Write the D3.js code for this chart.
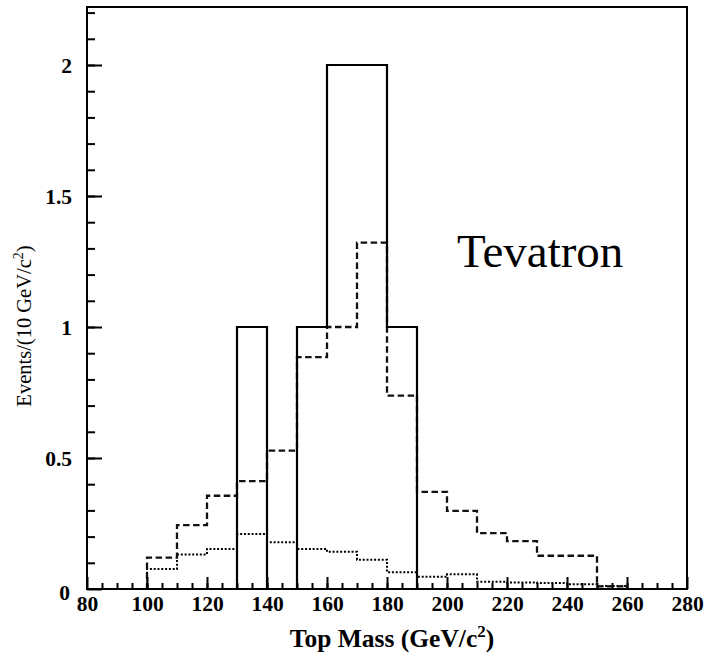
<!DOCTYPE html>
<html>
<head>
<meta charset="utf-8">
<script src="https://cdn.jsdelivr.net/npm/d3@7"></script>
<style>
  html, body { margin: 0; padding: 0; background: #fff; }
  svg { display: block; }
  text { font-family: "Liberation Serif", "Times New Roman", serif; fill: #000; }
</style>
</head>
<body>
<svg id="chart" width="707" height="656"></svg>
<script>
// Bin lower edges (GeV/c^2), 10 GeV wide bins
const binLow = [100, 110, 120, 130, 140, 150, 160, 170, 180, 190, 200, 210, 220, 230, 240, 250];
const binWidth = 10;
// Observed events per bin (solid)
const observed = [0, 0, 0, 1, 0, 1, 2, 2, 1, 0, 0, 0, 0, 0, 0, 0];
// Expected signal + background (dashed)
const expected = [0.12, 0.244, 0.356, 0.412, 0.528, 0.885, 1.0, 1.322, 0.738, 0.371, 0.298, 0.213, 0.183, 0.127, 0.127, 0.01];
// Background only (dotted)
const background = [0.076, 0.132, 0.153, 0.21, 0.178, 0.153, 0.142, 0.112, 0.064, 0.047, 0.056, 0.028, 0.025, 0.023, 0.018, 0.011];

const xMajorTicks = [80, 100, 120, 140, 160, 180, 200, 220, 240, 260, 280];
const yMajorTicks = [0, 0.5, 1, 1.5, 2];

const svg = d3.select("#chart");

const plot = { left: 87, right: 687, top: 7, bottom: 589 };
const x = d3.scaleLinear().domain([80, 280]).range([plot.left, plot.right]);
// y = 2 sits at pixel 65; the frame extends a little above
const yPerUnit = (plot.bottom - 65) / 2;
const yMax = (plot.bottom - plot.top) / yPerUnit;
const y = d3.scaleLinear().domain([0, yMax]).range([plot.bottom, plot.top]);

// Step outline of a histogram, starting and ending on the baseline
function stepPath(values) {
  const pts = [[binLow[0], 0]];
  values.forEach((v, i) => {
    pts.push([binLow[i], v]);
    pts.push([binLow[i] + binWidth, v]);
  });
  pts.push([binLow[binLow.length - 1] + binWidth, 0]);
  return d3.line().x(d => x(d[0])).y(d => y(d[1]))(pts);
}

// Background (dotted)
svg.append("path")
  .attr("d", stepPath(background))
  .attr("fill", "none")
  .attr("stroke", "#000")
  .attr("stroke-width", 2)
  .attr("stroke-dasharray", "2,1.8");

// Expected (dashed)
svg.append("path")
  .attr("d", stepPath(expected))
  .attr("fill", "none")
  .attr("stroke", "#111")
  .attr("stroke-width", 2.3)
  .attr("stroke-dasharray", "6.5,3.5");

// Observed (solid)
svg.append("path")
  .attr("d", stepPath(observed))
  .attr("fill", "none")
  .attr("stroke", "#000")
  .attr("stroke-width", 2.2)
  .attr("stroke-linejoin", "miter");

// Minor x ticks every 5 GeV
const xMinor = svg.append("g").attr("transform", `translate(0,${plot.bottom})`)
  .call(d3.axisBottom(x).tickValues(d3.range(85, 280, 5)).tickSize(-6).tickSizeOuter(0).tickFormat(""));
// Major x ticks with labels
const xMajor = svg.append("g").attr("transform", `translate(0,${plot.bottom})`)
  .call(d3.axisBottom(x).tickValues(xMajorTicks).tickSize(-12).tickSizeOuter(0).tickPadding(7).tickFormat(d3.format("d")));

// Minor y ticks every 0.1
const yMinor = svg.append("g").attr("transform", `translate(${plot.left},0)`)
  .call(d3.axisLeft(y).tickValues(d3.range(1, 23).map(i => i / 10)).tickSize(-8).tickSizeOuter(0).tickFormat(""));
// Major y ticks with labels
const yMajor = svg.append("g").attr("transform", `translate(${plot.left},0)`)
  .call(d3.axisLeft(y).tickValues(yMajorTicks).tickSize(-15).tickSizeOuter(0).tickPadding(15).tickFormat(d => String(d)));

[xMinor, xMajor, yMinor, yMajor].forEach(g => {
  g.select(".domain").remove();
  g.selectAll(".tick line").attr("stroke", "#000").attr("stroke-width", 2);
  g.selectAll(".tick text")
    .attr("font-size", 21.5)
    .attr("font-weight", "bold")
    .attr("fill", "#111");
});
yMajor.selectAll(".tick text").attr("dy", "0.36em");
yMajor.selectAll(".tick").filter(d => d === 0).select("text").attr("dy", "0.5em").attr("x", -17);

// Frame
svg.append("rect")
  .attr("x", plot.left).attr("y", plot.top)
  .attr("width", plot.right - plot.left).attr("height", plot.bottom - plot.top)
  .attr("fill", "none").attr("stroke", "#000").attr("stroke-width", 2);

// Axis titles
const xt = svg.append("text")
  .attr("x", 392)
  .attr("y", 647)
  .attr("text-anchor", "middle")
  .attr("font-size", 25.5)
  .attr("font-weight", "bold");
xt.append("tspan").text("Top Mass (GeV/c");
xt.append("tspan").attr("font-size", 17).attr("dy", -10).text("2");
xt.append("tspan").attr("dy", 10).text(")");

const yt = svg.append("text")
  .attr("transform", "translate(31,326) rotate(-90)")
  .attr("text-anchor", "middle")
  .attr("font-size", 20.5);
yt.append("tspan").text("Events/(10 GeV/c");
yt.append("tspan").attr("font-size", 14).attr("dy", -8).text("2");
yt.append("tspan").attr("dy", 8).text(")");

// Collider label
svg.append("text")
  .attr("x", 457)
  .attr("y", 267)
  .attr("font-size", 47)
  .text("Tevatron");
</script>
</body>
</html>
